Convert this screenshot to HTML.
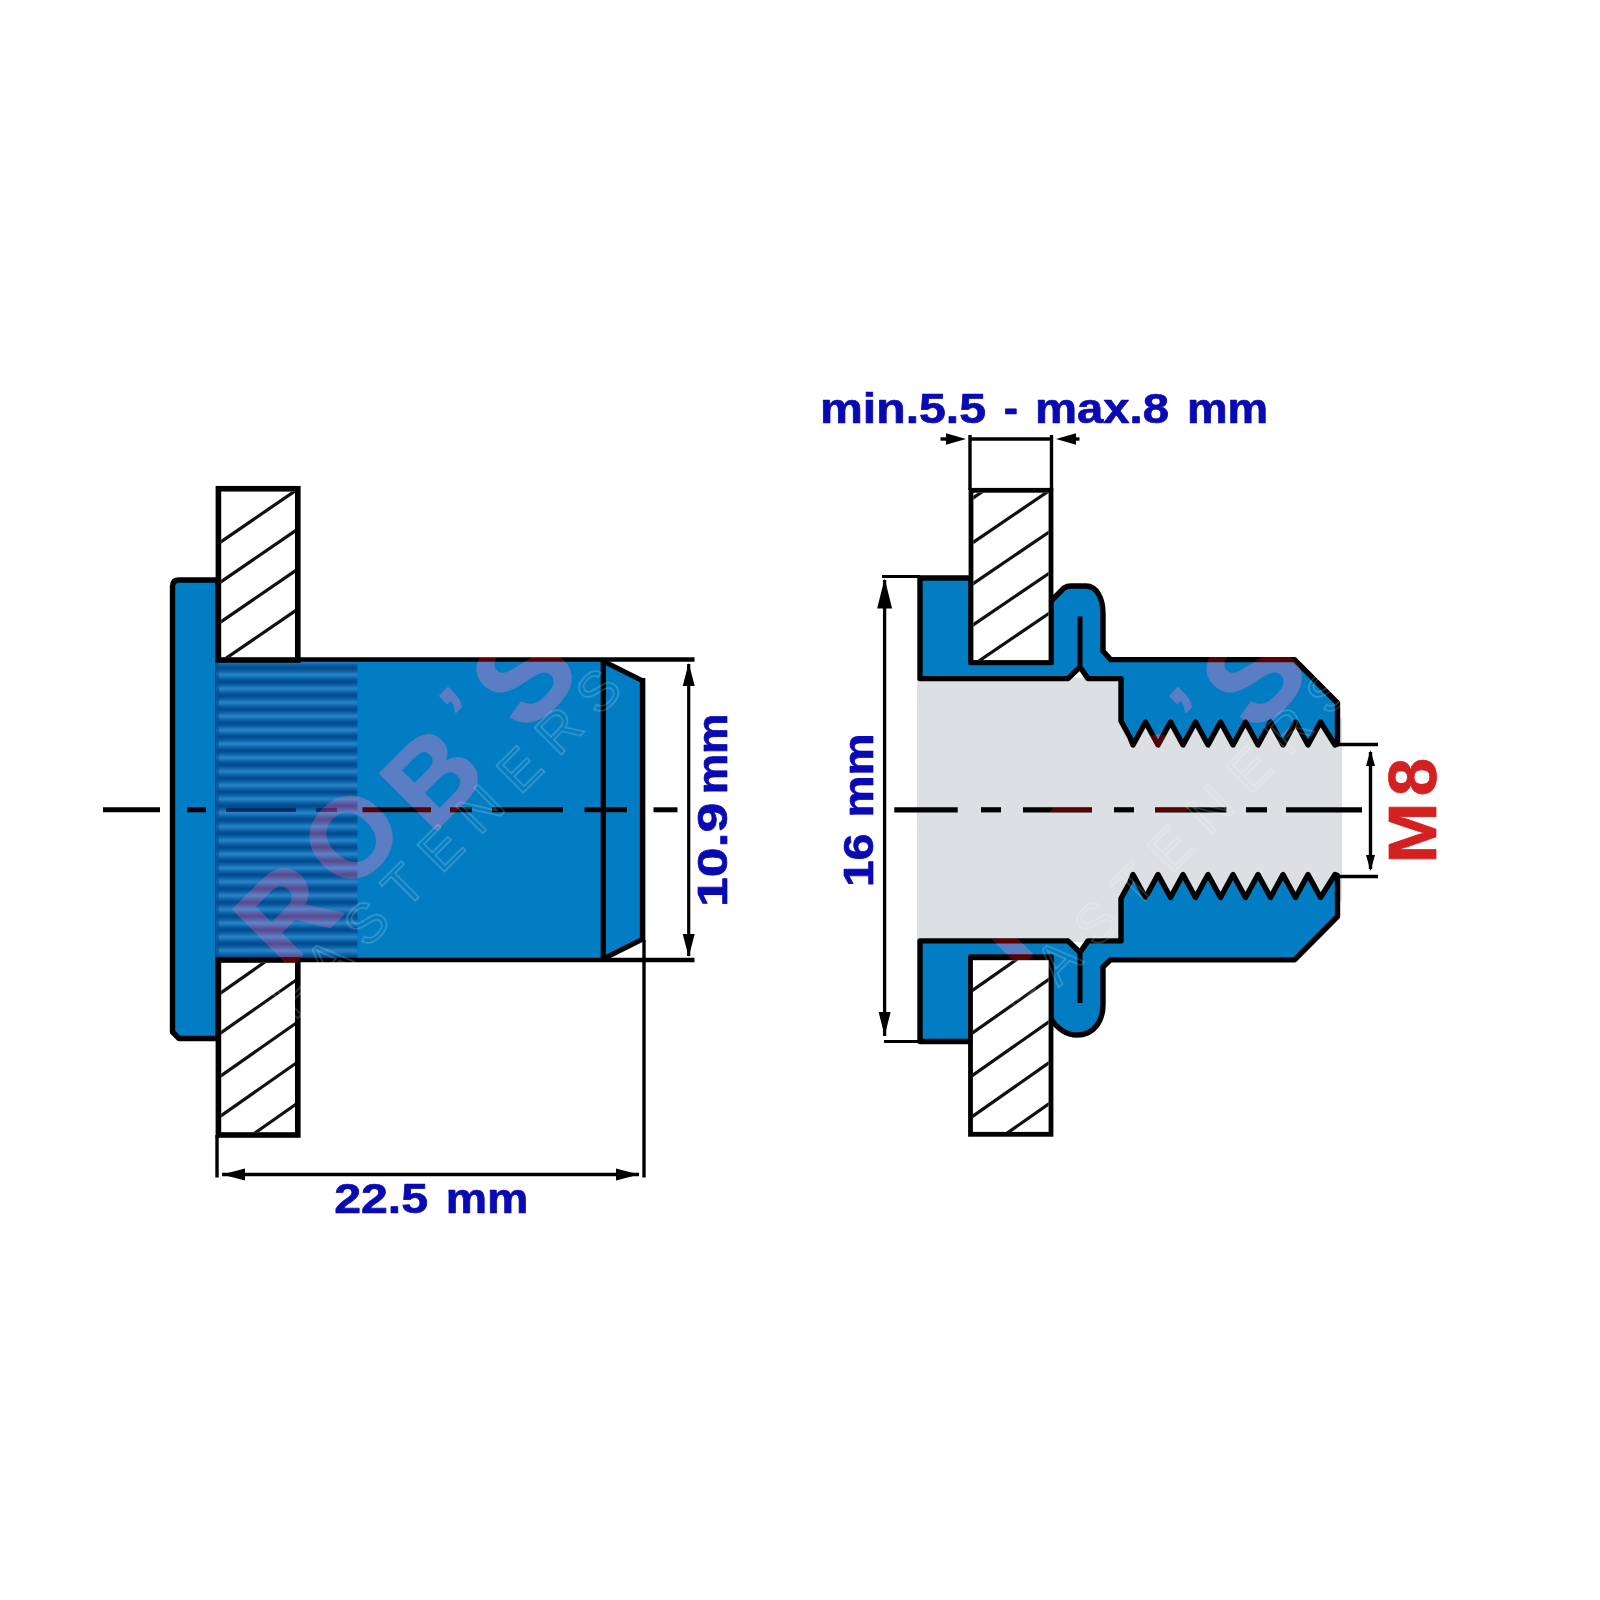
<!DOCTYPE html>
<html><head><meta charset="utf-8"><title>Rivet nut M8 dimensions</title>
<style>html,body{margin:0;padding:0;background:#fff;width:1600px;height:1600px;overflow:hidden;font-family:"Liberation Sans",sans-serif;}</style>
</head><body>
<svg width="1600" height="1600" viewBox="0 0 1600 1600" style="position:absolute;left:0;top:0">
<rect width="1600" height="1600" fill="#fff"/>
<path d="M218,580 L179,580 Q172.5,580 172.5,586.5 L172.5,1032 L179,1038.5 L218,1038.5 Z" fill="#027dc3" stroke="#000" stroke-width="5.40" stroke-linejoin="round"/>
<rect x="216" y="659.5" width="388" height="300.5" fill="#027dc3"/>
<polygon points="603.00,659.50 642.50,680.00 642.50,940.00 603.00,960.00" fill="#027dc3" />
<defs><linearGradient id="kg" x1="0" y1="0" x2="0" y2="1"><stop offset="0" stop-color="#00488a"/><stop offset="0.22" stop-color="#0a5fa6"/><stop offset="0.5" stop-color="#2a86c8"/><stop offset="0.78" stop-color="#0a5fa6"/><stop offset="1" stop-color="#00488a"/></linearGradient><pattern id="kp" patternUnits="userSpaceOnUse" x="0" y="668" width="400" height="13.79"><rect width="400" height="13.79" fill="url(#kg)"/></pattern></defs>
<rect x="216" y="662" width="141.5" height="296" fill="url(#kp)"/>
<rect x="215" y="662" width="4" height="296" fill="#0a4f96" opacity="0.6"/>
<line x1="216.00" y1="659.50" x2="694.50" y2="659.50" stroke="#000" stroke-width="4.60" stroke-linecap="butt"/>
<line x1="216.00" y1="960.00" x2="694.50" y2="960.00" stroke="#000" stroke-width="4.60" stroke-linecap="butt"/>
<line x1="603.30" y1="659.50" x2="603.30" y2="960.00" stroke="#000" stroke-width="5.30" stroke-linecap="butt"/>
<line x1="605.00" y1="662.00" x2="643.00" y2="681.00" stroke="#000" stroke-width="4.80" stroke-linecap="butt"/>
<line x1="605.00" y1="958.00" x2="643.00" y2="939.00" stroke="#000" stroke-width="4.80" stroke-linecap="butt"/>
<line x1="642.60" y1="678.00" x2="642.60" y2="942.00" stroke="#000" stroke-width="5.50" stroke-linecap="butt"/>
<line x1="644.00" y1="940.00" x2="644.00" y2="1177.50" stroke="#000" stroke-width="3.40" stroke-linecap="butt"/>
<rect x="218.4" y="488.75" width="79.4" height="171.25" fill="#fff" stroke="#000" stroke-width="5.6"/>
<clipPath id="cpL1"><rect x="221.20" y="491.50" width="73.80" height="166.00"/></clipPath>
<g clip-path="url(#cpL1)">
<line x1="201.20" y1="555.25" x2="315.00" y2="477.30" stroke="#111" stroke-width="3.20"/>
<line x1="201.20" y1="595.25" x2="315.00" y2="517.29" stroke="#111" stroke-width="3.20"/>
<line x1="201.20" y1="635.25" x2="315.00" y2="557.29" stroke="#111" stroke-width="3.20"/>
<line x1="201.20" y1="675.25" x2="315.00" y2="597.29" stroke="#111" stroke-width="3.20"/>
</g>
<rect x="218.4" y="960" width="79.4" height="175" fill="#fff" stroke="#000" stroke-width="5.6"/>
<clipPath id="cpL2"><rect x="221.20" y="962.80" width="73.80" height="169.40"/></clipPath>
<g clip-path="url(#cpL2)">
<line x1="201.20" y1="1006.56" x2="315.00" y2="926.90" stroke="#111" stroke-width="3.20"/>
<line x1="201.20" y1="1046.56" x2="315.00" y2="966.90" stroke="#111" stroke-width="3.20"/>
<line x1="201.20" y1="1089.56" x2="315.00" y2="1009.90" stroke="#111" stroke-width="3.20"/>
<line x1="201.20" y1="1129.56" x2="315.00" y2="1049.90" stroke="#111" stroke-width="3.20"/>
<line x1="201.20" y1="1170.56" x2="315.00" y2="1090.90" stroke="#111" stroke-width="3.20"/>
</g>
<line x1="217.00" y1="1135.00" x2="217.00" y2="1177.50" stroke="#000" stroke-width="3.40" stroke-linecap="butt"/>
<line x1="222.00" y1="1174.50" x2="639.00" y2="1174.50" stroke="#000" stroke-width="3.40" stroke-linecap="butt"/>
<polygon points="222.00,1174.50 245.00,1168.50 245.00,1180.50" fill="#000" />
<polygon points="639.00,1174.50 616.00,1180.50 616.00,1168.50" fill="#000" />
<line x1="688.70" y1="664.00" x2="688.70" y2="956.00" stroke="#000" stroke-width="3.20" stroke-linecap="butt"/>
<polygon points="688.70,663.00 694.70,686.00 682.70,686.00" fill="#000" />
<polygon points="688.70,957.00 682.70,934.00 694.70,934.00" fill="#000" />
<line x1="103.00" y1="809.80" x2="160.00" y2="809.80" stroke="#000" stroke-width="5.00" stroke-linecap="butt"/>
<line x1="187.00" y1="809.80" x2="206.00" y2="809.80" stroke="#000" stroke-width="5.00" stroke-linecap="butt"/>
<line x1="362.50" y1="809.80" x2="431.00" y2="809.80" stroke="#000" stroke-width="5.00" stroke-linecap="butt"/>
<line x1="450.00" y1="809.80" x2="472.00" y2="809.80" stroke="#000" stroke-width="5.00" stroke-linecap="butt"/>
<line x1="492.00" y1="809.80" x2="563.00" y2="809.80" stroke="#000" stroke-width="5.00" stroke-linecap="butt"/>
<line x1="584.50" y1="809.80" x2="627.00" y2="809.80" stroke="#000" stroke-width="5.00" stroke-linecap="butt"/>
<line x1="653.50" y1="809.80" x2="677.50" y2="809.80" stroke="#000" stroke-width="5.00" stroke-linecap="butt"/>
<line x1="226.00" y1="809.80" x2="296.00" y2="809.80" stroke="#002a6a" stroke-width="4.00" stroke-linecap="butt"/>
<line x1="316.00" y1="809.80" x2="337.00" y2="809.80" stroke="#002a6a" stroke-width="4.00" stroke-linecap="butt"/>
<path d="M917,677.5 L1123,677.5 L1123,718 L1342,718 L1342,901.5 L1123,901.5 L1123,942 L917,942 Z" fill="#dce0e3"/>
<path d="M920.00,678.60 L920.00,578.00 L971.00,578.00 L971.00,662.50 L1051.00,662.50 L1051.00,601.00 L1064.00,588.00 Q1067.00,586.00 1071.00,586.00 L1086.00,586.00 C1097.00,586.00 1103.00,599.00 1103.00,613.00 L1103.00,651.00 L1110.50,659.60 L1294.60,659.60 L1337.50,703.00 L1337.50,744.00 L1335.00,745.00 L1320.50,722.00 L1308.00,745.00 L1295.50,722.00 L1283.00,745.00 L1270.50,722.00 L1258.00,745.00 L1245.50,722.00 L1233.00,745.00 L1220.50,722.00 L1208.00,745.00 L1195.50,722.00 L1183.00,745.00 L1170.50,722.00 L1158.00,745.00 L1145.50,722.00 L1133.00,745.00 L1130.00,737.50 L1121.00,721.00 L1121.00,678.60 L1088.00,678.60 L1080.00,667.00 L1068.00,678.60 Z" fill="#027dc3" stroke="#000" stroke-width="5.4" stroke-linejoin="round"/>
<path d="M920.00,940.90 L920.00,1041.50 L971.00,1041.50 L971.00,957.00 L1051.00,957.00 L1051.00,1018.50 C1057,1029 1067,1035 1077,1035 C1094,1035 1103,1021 1103,1005 L1103,967 L1110.5,959.9 L1294.60,959.90 L1337.50,916.50 L1337.50,875.50 L1335.00,874.50 L1320.50,897.50 L1308.00,874.50 L1295.50,897.50 L1283.00,874.50 L1270.50,897.50 L1258.00,874.50 L1245.50,897.50 L1233.00,874.50 L1220.50,897.50 L1208.00,874.50 L1195.50,897.50 L1183.00,874.50 L1170.50,897.50 L1158.00,874.50 L1145.50,897.50 L1133.00,874.50 L1130.00,882.00 L1121.00,898.50 L1121.00,940.90 L1088.00,940.90 L1080.00,952.50 L1068.00,940.90 Z" fill="#027dc3" stroke="#000" stroke-width="5.4" stroke-linejoin="round"/>
<line x1="1080.00" y1="616.50" x2="1080.00" y2="668.00" stroke="#000" stroke-width="5.00" stroke-linecap="butt"/>
<line x1="1080.00" y1="1003.00" x2="1080.00" y2="951.50" stroke="#000" stroke-width="5.00" stroke-linecap="butt"/>
<rect x="971" y="490.3" width="80" height="172.2" fill="#fff" stroke="#000" stroke-width="4.8"/>
<clipPath id="cpR1"><rect x="973.40" y="492.70" width="75.20" height="167.40"/></clipPath>
<g clip-path="url(#cpR1)">
<line x1="953.40" y1="511.33" x2="1068.60" y2="432.99" stroke="#111" stroke-width="3.20"/>
<line x1="953.40" y1="555.83" x2="1068.60" y2="477.49" stroke="#111" stroke-width="3.20"/>
<line x1="953.40" y1="597.08" x2="1068.60" y2="518.74" stroke="#111" stroke-width="3.20"/>
<line x1="953.40" y1="638.33" x2="1068.60" y2="559.99" stroke="#111" stroke-width="3.20"/>
<line x1="953.40" y1="678.33" x2="1068.60" y2="599.99" stroke="#111" stroke-width="3.20"/>
</g>
<rect x="970.5" y="957.8" width="80.5" height="176.5" fill="#fff" stroke="#000" stroke-width="4.8"/>
<clipPath id="cpR2"><rect x="972.90" y="960.20" width="75.70" height="171.70"/></clipPath>
<g clip-path="url(#cpR2)">
<line x1="952.90" y1="1004.07" x2="1068.60" y2="923.08" stroke="#111" stroke-width="3.20"/>
<line x1="952.90" y1="1046.57" x2="1068.60" y2="965.58" stroke="#111" stroke-width="3.20"/>
<line x1="952.90" y1="1089.07" x2="1068.60" y2="1008.08" stroke="#111" stroke-width="3.20"/>
<line x1="952.90" y1="1130.07" x2="1068.60" y2="1049.08" stroke="#111" stroke-width="3.20"/>
<line x1="952.90" y1="1171.07" x2="1068.60" y2="1090.08" stroke="#111" stroke-width="3.20"/>
</g>
<line x1="882.00" y1="576.50" x2="920.00" y2="576.50" stroke="#000" stroke-width="3.20" stroke-linecap="butt"/>
<line x1="884.00" y1="1041.50" x2="920.00" y2="1041.50" stroke="#000" stroke-width="3.20" stroke-linecap="butt"/>
<line x1="884.60" y1="580.00" x2="884.60" y2="1036.00" stroke="#000" stroke-width="3.30" stroke-linecap="butt"/>
<polygon points="884.60,578.50 892.10,608.50 877.10,608.50" fill="#000" />
<polygon points="884.60,1036.00 878.60,1012.00 890.60,1012.00" fill="#000" />
<line x1="970.00" y1="435.00" x2="970.00" y2="490.00" stroke="#000" stroke-width="3.40" stroke-linecap="butt"/>
<line x1="1051.50" y1="435.00" x2="1051.50" y2="490.00" stroke="#000" stroke-width="3.40" stroke-linecap="butt"/>
<line x1="969.00" y1="439.00" x2="1052.50" y2="439.00" stroke="#000" stroke-width="3.40" stroke-linecap="butt"/>
<line x1="940.50" y1="439.00" x2="950.00" y2="439.00" stroke="#000" stroke-width="3.40" stroke-linecap="butt"/>
<polygon points="966.00,439.00 946.00,444.75 946.00,433.25" fill="#000" />
<line x1="1070.00" y1="439.00" x2="1079.50" y2="439.00" stroke="#000" stroke-width="3.40" stroke-linecap="butt"/>
<polygon points="1056.00,439.00 1076.00,433.25 1076.00,444.75" fill="#000" />
<line x1="1337.50" y1="744.50" x2="1378.00" y2="744.50" stroke="#000" stroke-width="3.60" stroke-linecap="butt"/>
<line x1="1337.50" y1="876.50" x2="1378.00" y2="876.50" stroke="#000" stroke-width="3.60" stroke-linecap="butt"/>
<line x1="1370.50" y1="752.00" x2="1370.50" y2="869.00" stroke="#000" stroke-width="3.40" stroke-linecap="butt"/>
<polygon points="1370.50,750.00 1375.00,766.00 1366.00,766.00" fill="#000" />
<polygon points="1370.50,871.00 1366.00,855.00 1375.00,855.00" fill="#000" />
<line x1="894.30" y1="809.80" x2="957.70" y2="809.80" stroke="#000" stroke-width="5.20" stroke-linecap="butt"/>
<line x1="981.00" y1="809.80" x2="1001.00" y2="809.80" stroke="#000" stroke-width="5.20" stroke-linecap="butt"/>
<line x1="1023.00" y1="809.80" x2="1092.00" y2="809.80" stroke="#000" stroke-width="5.20" stroke-linecap="butt"/>
<line x1="1114.00" y1="809.80" x2="1134.00" y2="809.80" stroke="#000" stroke-width="5.20" stroke-linecap="butt"/>
<line x1="1155.00" y1="809.80" x2="1226.40" y2="809.80" stroke="#000" stroke-width="5.20" stroke-linecap="butt"/>
<line x1="1246.00" y1="809.80" x2="1267.00" y2="809.80" stroke="#000" stroke-width="5.20" stroke-linecap="butt"/>
<line x1="1286.00" y1="809.80" x2="1362.00" y2="809.80" stroke="#000" stroke-width="5.20" stroke-linecap="butt"/>
<g transform="translate(0.0,0)" style="mix-blend-mode:lighten">
<text transform="translate(285.0,912.0) rotate(-45)" x="0" y="42.5" text-anchor="middle" font-family="Liberation Sans, sans-serif" font-weight="bold" font-size="118" fill="#5a0000" stroke="#5a0000" stroke-width="2" stroke-linejoin="round">R</text>
<text transform="translate(350.0,836.0) rotate(-45)" x="0" y="40.3" text-anchor="middle" font-family="Liberation Sans, sans-serif" font-weight="bold" font-size="112" fill="#5a0000" stroke="#5a0000" stroke-width="2" stroke-linejoin="round">O</text>
<text transform="translate(431.0,776.0) rotate(-45)" x="0" y="41.8" text-anchor="middle" font-family="Liberation Sans, sans-serif" font-weight="bold" font-size="116" fill="#5a0000" stroke="#5a0000" stroke-width="2" stroke-linejoin="round">B</text>
<text transform="translate(449.0,697.0) rotate(-45)" x="0" y="48.0" text-anchor="middle" font-family="Liberation Sans, sans-serif" font-weight="bold" font-size="80" fill="#5a0000" stroke="#5a0000" stroke-width="2" stroke-linejoin="round">’</text>
<text transform="translate(522.0,673.0) rotate(-45)" x="0" y="46.1" text-anchor="middle" font-family="Liberation Sans, sans-serif" font-weight="bold" font-size="128" fill="#5a0000" stroke="#5a0000" stroke-width="2" stroke-linejoin="round">S</text>
</g>
<g transform="translate(0.0,0)" style="mix-blend-mode:screen">
<text transform="translate(294.5,1021.5) rotate(-45)" font-family="Liberation Sans, sans-serif" font-size="55" fill="none" stroke="#3c3c3c" stroke-width="1.4" textLength="467" lengthAdjust="spacing">FASTENERS</text>
</g>
<g transform="translate(730.0,0)" style="mix-blend-mode:lighten">
<text transform="translate(285.0,912.0) rotate(-45)" x="0" y="42.5" text-anchor="middle" font-family="Liberation Sans, sans-serif" font-weight="bold" font-size="118" fill="#5a0000" stroke="#5a0000" stroke-width="2" stroke-linejoin="round">R</text>
<text transform="translate(350.0,836.0) rotate(-45)" x="0" y="40.3" text-anchor="middle" font-family="Liberation Sans, sans-serif" font-weight="bold" font-size="112" fill="#5a0000" stroke="#5a0000" stroke-width="2" stroke-linejoin="round">O</text>
<text transform="translate(431.0,776.0) rotate(-45)" x="0" y="41.8" text-anchor="middle" font-family="Liberation Sans, sans-serif" font-weight="bold" font-size="116" fill="#5a0000" stroke="#5a0000" stroke-width="2" stroke-linejoin="round">B</text>
<text transform="translate(449.0,697.0) rotate(-45)" x="0" y="48.0" text-anchor="middle" font-family="Liberation Sans, sans-serif" font-weight="bold" font-size="80" fill="#5a0000" stroke="#5a0000" stroke-width="2" stroke-linejoin="round">’</text>
<text transform="translate(522.0,673.0) rotate(-45)" x="0" y="46.1" text-anchor="middle" font-family="Liberation Sans, sans-serif" font-weight="bold" font-size="128" fill="#5a0000" stroke="#5a0000" stroke-width="2" stroke-linejoin="round">S</text>
</g>
<g transform="translate(730.0,0)" style="mix-blend-mode:screen">
<text transform="translate(294.5,1021.5) rotate(-45)" font-family="Liberation Sans, sans-serif" font-size="55" fill="none" stroke="#3c3c3c" stroke-width="1.4" textLength="467" lengthAdjust="spacing">FASTENERS</text>
</g>
<text x="334.18" y="1213.00" font-family="Liberation Sans, sans-serif" font-weight="bold" stroke-width="0.7" stroke-linejoin="round" font-size="42" fill="#0a0ab4" stroke="#0a0ab4" textLength="93.85" lengthAdjust="spacingAndGlyphs">22.5</text>
<text x="445.67" y="1213.00" font-family="Liberation Sans, sans-serif" font-weight="bold" stroke-width="0.7" stroke-linejoin="round" font-size="42" fill="#0a0ab4" stroke="#0a0ab4" textLength="82.64" lengthAdjust="spacingAndGlyphs">mm</text>
<text x="819.96" y="422.80" font-family="Liberation Sans, sans-serif" font-weight="bold" stroke-width="0.7" stroke-linejoin="round" font-size="42" fill="#0a0ab4" stroke="#0a0ab4" textLength="166.07" lengthAdjust="spacingAndGlyphs">min.5.5</text>
<text x="1003.83" y="422.80" font-family="Liberation Sans, sans-serif" font-weight="bold" stroke-width="0.7" stroke-linejoin="round" font-size="42" fill="#0a0ab4" stroke="#0a0ab4" textLength="14.22" lengthAdjust="spacingAndGlyphs">-</text>
<text x="1034.95" y="422.80" font-family="Liberation Sans, sans-serif" font-weight="bold" stroke-width="0.7" stroke-linejoin="round" font-size="42" fill="#0a0ab4" stroke="#0a0ab4" textLength="134.07" lengthAdjust="spacingAndGlyphs">max.8</text>
<text x="1186.90" y="422.80" font-family="Liberation Sans, sans-serif" font-weight="bold" stroke-width="0.7" stroke-linejoin="round" font-size="42" fill="#0a0ab4" stroke="#0a0ab4" textLength="81.22" lengthAdjust="spacingAndGlyphs">mm</text>
<text transform="translate(727.40,0) rotate(-90)" x="-907.12" y="0" font-family="Liberation Sans, sans-serif" font-weight="bold" stroke-width="0.7" stroke-linejoin="round" font-size="42" fill="#0a0ab4" stroke="#0a0ab4" textLength="104.38" lengthAdjust="spacingAndGlyphs">10.9</text>
<text transform="translate(727.40,0) rotate(-90)" x="-794.34" y="0" font-family="Liberation Sans, sans-serif" font-weight="bold" stroke-width="0.7" stroke-linejoin="round" font-size="42" fill="#0a0ab4" stroke="#0a0ab4" textLength="80.65" lengthAdjust="spacingAndGlyphs">mm</text>
<text transform="translate(872.60,0) rotate(-90)" x="-886.97" y="0" font-family="Liberation Sans, sans-serif" font-weight="bold" stroke-width="0.7" stroke-linejoin="round" font-size="42" fill="#0a0ab4" stroke="#0a0ab4" textLength="53.27" lengthAdjust="spacingAndGlyphs">16</text>
<text transform="translate(872.60,0) rotate(-90)" x="-817.54" y="0" font-family="Liberation Sans, sans-serif" font-weight="bold" stroke-width="0.7" stroke-linejoin="round" font-size="42" fill="#0a0ab4" stroke="#0a0ab4" textLength="83.86" lengthAdjust="spacingAndGlyphs">mm</text>
<text transform="translate(1436.00,0) rotate(-90)" x="-863.73" y="0" font-family="Liberation Sans, sans-serif" font-weight="bold" stroke-width="0.7" stroke-linejoin="round" font-size="69" fill="#d42020" stroke="#d42020" textLength="61.45" lengthAdjust="spacingAndGlyphs">M</text>
<text transform="translate(1436.00,0) rotate(-90)" x="-796.19" y="0" font-family="Liberation Sans, sans-serif" font-weight="bold" stroke-width="0.7" stroke-linejoin="round" font-size="69" fill="#d42020" stroke="#d42020" textLength="38.28" lengthAdjust="spacingAndGlyphs">8</text>
</svg>
</body></html>
